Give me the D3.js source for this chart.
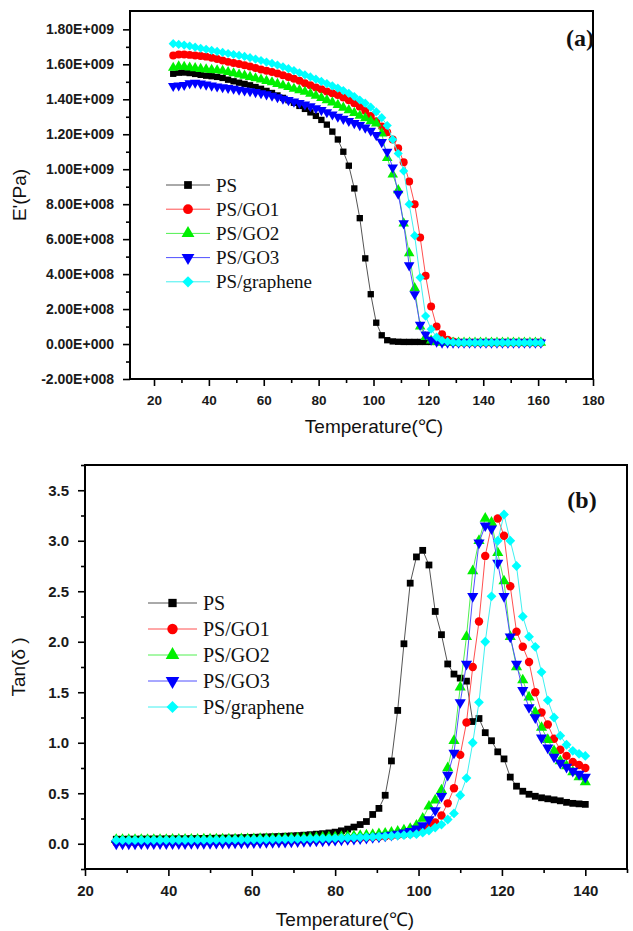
<!DOCTYPE html>
<html><head><meta charset="utf-8">
<script src="https://cdn.jsdelivr.net/npm/d3@7/dist/d3.min.js"></script>
<style>body{margin:0;background:#fff} svg{display:block}</style>
</head><body><svg id="c" width="633" height="931"></svg>
<script>
// ---------------- data ----------------
const seriesNames = ["PS", "PS/GO1", "PS/GO2", "PS/GO3", "PS/graphene"];
const markerColors = ["#000000", "#ff0000", "#00f000", "#0000ff", "#00ffff"];
const lineColors = ["#555555", "#ff5050", "#50f050", "#5050ff", "#40f0f0"];
const markerKinds = ["square", "circle", "triUp", "triDown", "diamond"];

// (a) storage modulus E' (values in units of 1E+009 Pa)
const tempA = [27,29,31,33,35,37,39,41,43,45,47,49,51,53,55,57,59,61,63,65,67,69,71,73,75,77,79,81,83,85,87,89,91,93,95,97,99,101,103,105,107,109,111,113,115,117,119,121,123,125,127,129,131,133,135,137,139,141,143,145,147,149,151,153,155,157,159,161];
const eA_PS = [1.546,1.552,1.553,1.550,1.545,1.540,1.535,1.532,1.528,1.522,1.512,1.503,1.495,1.488,1.480,1.470,1.460,1.448,1.436,1.422,1.408,1.395,1.380,1.362,1.345,1.325,1.305,1.282,1.255,1.215,1.170,1.100,1.020,0.890,0.720,0.490,0.285,0.122,0.050,0.022,0.015,0.013,0.012,0.012,0.012,0.012,0.012,0.012,0.012,0.012,0.012,0.012,0.012,0.012,0.012,0.012,0.012,0.012,0.012,0.012,0.012,0.012,0.012,0.012,0.012,0.012,0.012,0.012];
const eA_GO1 = [1.650,1.656,1.656,1.654,1.650,1.647,1.644,1.638,1.630,1.622,1.614,1.608,1.602,1.595,1.587,1.579,1.571,1.563,1.556,1.548,1.538,1.528,1.518,1.506,1.492,1.480,1.468,1.457,1.445,1.434,1.424,1.410,1.395,1.378,1.358,1.334,1.305,1.275,1.245,1.212,1.170,1.120,1.040,0.930,0.800,0.610,0.390,0.215,0.100,0.056,0.025,0.014,0.008,0.008,0.008,0.008,0.008,0.008,0.008,0.008,0.008,0.008,0.008,0.008,0.008,0.008,0.008,0.008];
const eA_GO2 = [1.580,1.588,1.586,1.582,1.578,1.574,1.571,1.568,1.566,1.563,1.556,1.549,1.542,1.535,1.528,1.520,1.513,1.505,1.497,1.488,1.479,1.470,1.460,1.452,1.443,1.432,1.420,1.408,1.395,1.382,1.368,1.352,1.338,1.322,1.306,1.292,1.275,1.262,1.205,1.065,0.970,0.880,0.690,0.520,0.320,0.100,0.040,0.020,0.012,0.008,0.008,0.008,0.008,0.008,0.008,0.008,0.008,0.008,0.008,0.008,0.008,0.008,0.008,0.008,0.008,0.008,0.008,0.008];
const eA_GO3 = [1.476,1.479,1.482,1.492,1.495,1.490,1.484,1.478,1.473,1.469,1.465,1.460,1.455,1.450,1.446,1.441,1.435,1.428,1.420,1.412,1.403,1.395,1.387,1.379,1.370,1.360,1.349,1.338,1.326,1.313,1.300,1.288,1.276,1.264,1.252,1.238,1.220,1.195,1.155,1.100,1.010,0.860,0.690,0.450,0.285,0.110,0.055,0.025,0.014,0.008,0.008,0.008,0.008,0.008,0.008,0.008,0.008,0.008,0.008,0.008,0.008,0.008,0.008,0.008,0.008,0.008,0.008,0.008];
const eA_GR = [1.718,1.714,1.710,1.705,1.698,1.692,1.686,1.680,1.674,1.668,1.662,1.656,1.651,1.645,1.638,1.630,1.622,1.613,1.605,1.596,1.586,1.575,1.564,1.552,1.540,1.528,1.515,1.502,1.490,1.477,1.464,1.450,1.434,1.416,1.396,1.378,1.355,1.328,1.295,1.250,1.170,1.090,0.990,0.800,0.620,0.380,0.160,0.085,0.040,0.020,0.014,0.010,0.008,0.008,0.008,0.008,0.008,0.008,0.008,0.008,0.008,0.008,0.008,0.008,0.008,0.008,0.008,0.008];
const yTicksA = [-0.2,0,0.2,0.4,0.6,0.8,1.0,1.2,1.4,1.6,1.8];
const xTicksA = [20,40,60,80,100,120,140,160,180];

// (b) loss factor tan(delta)
const tempB = [27.5,29,30.5,32,33.5,35,36.5,38,39.5,41,42.5,44,45.5,47,48.5,50,51.5,53,54.5,56,57.5,59,60.5,62,63.5,65,66.5,68,69.5,71,72.5,74,75.5,77,78.5,80,81.5,83,84.5,86,87.5,89,90.5,92,93.5,95,96.5,98,99.5,101,102.5,104,105.5,107,108.5,110,111.5,113,114.5,116,117.5,119,120.5,122,123.5,125,126.5,128,129.5,131,132.5,134,135.5,137,138.5,140];
const tanB_PS = [0.045,0.045,0.046,0.046,0.047,0.047,0.048,0.048,0.049,0.049,0.050,0.050,0.051,0.052,0.053,0.054,0.055,0.056,0.057,0.058,0.060,0.062,0.064,0.066,0.068,0.070,0.072,0.075,0.078,0.081,0.085,0.090,0.095,0.100,0.107,0.115,0.128,0.145,0.165,0.190,0.220,0.290,0.350,0.480,0.820,1.320,1.980,2.580,2.840,2.905,2.760,2.300,2.070,1.780,1.680,1.640,1.610,1.210,1.240,1.100,1.020,0.910,0.840,0.660,0.570,0.520,0.490,0.470,0.455,0.445,0.435,0.425,0.410,0.400,0.395,0.390];
const tanB_GO1 = [0.015,0.015,0.015,0.015,0.015,0.016,0.016,0.016,0.016,0.017,0.017,0.017,0.018,0.018,0.019,0.019,0.020,0.020,0.021,0.022,0.023,0.024,0.025,0.026,0.027,0.028,0.029,0.030,0.032,0.034,0.036,0.038,0.040,0.042,0.044,0.046,0.049,0.052,0.055,0.058,0.062,0.066,0.070,0.075,0.080,0.086,0.093,0.100,0.110,0.13,0.17,0.21,0.28,0.40,0.55,0.88,1.20,1.75,2.20,2.85,3.15,3.22,3.05,2.55,2.10,1.95,1.80,1.50,1.30,1.18,1.04,0.93,0.87,0.81,0.78,0.75];
const tanB_GO2 = [0.040,0.040,0.040,0.040,0.040,0.040,0.041,0.041,0.041,0.042,0.042,0.042,0.043,0.043,0.044,0.044,0.045,0.045,0.046,0.046,0.047,0.048,0.048,0.049,0.050,0.051,0.052,0.053,0.054,0.055,0.057,0.058,0.060,0.062,0.064,0.066,0.069,0.072,0.076,0.080,0.085,0.090,0.096,0.103,0.112,0.122,0.135,0.150,0.180,0.25,0.37,0.43,0.53,0.75,1.02,1.55,2.05,2.70,3.00,3.22,3.18,2.88,2.60,2.05,1.75,1.62,1.45,1.30,1.15,1.03,0.92,0.82,0.77,0.71,0.66,0.61];
const tanB_GO3 = [0.000,0.000,0.000,0.000,0.001,0.001,0.001,0.002,0.002,0.002,0.003,0.003,0.004,0.004,0.005,0.005,0.006,0.007,0.008,0.009,0.010,0.011,0.012,0.013,0.014,0.015,0.017,0.018,0.020,0.022,0.024,0.026,0.028,0.030,0.033,0.036,0.039,0.043,0.047,0.052,0.057,0.063,0.070,0.078,0.087,0.097,0.110,0.125,0.150,0.18,0.24,0.33,0.47,0.68,0.90,1.40,1.78,2.45,2.98,3.15,3.12,2.78,2.45,2.05,1.78,1.52,1.35,1.25,1.05,0.95,0.86,0.80,0.76,0.72,0.69,0.66];
const tanB_GR = [0.035,0.035,0.035,0.035,0.035,0.035,0.036,0.036,0.036,0.036,0.037,0.037,0.037,0.038,0.038,0.038,0.039,0.039,0.040,0.040,0.041,0.041,0.042,0.042,0.043,0.044,0.045,0.046,0.047,0.048,0.049,0.050,0.051,0.052,0.053,0.055,0.057,0.059,0.061,0.063,0.065,0.068,0.071,0.074,0.077,0.081,0.085,0.090,0.095,0.11,0.13,0.16,0.19,0.24,0.30,0.48,0.65,1.00,1.40,2.00,2.45,3.00,3.26,3.00,2.75,2.25,2.05,1.95,1.70,1.42,1.25,1.07,0.98,0.92,0.89,0.87];
const yTicksB = [0.0,0.5,1.0,1.5,2.0,2.5,3.0,3.5];
const xTicksB = [20,40,60,80,100,120,140];

// ---------------- drawing ----------------
const svg = d3.select("#c");
const tickFont = "'Liberation Sans', Arial, sans-serif";
const serif = "'Liberation Serif', 'Times New Roman', serif";

function symbolPath(kind, size) {
  if (kind === "circle") return d3.symbol(d3.symbolCircle, size)();
  if (kind === "triUp" || kind === "triDown") return d3.symbol(d3.symbolTriangle, size)();
  return d3.symbol(d3.symbolSquare, size)();
}
function symbolRot(kind) {
  if (kind === "triDown") return 180;
  if (kind === "diamond") return 45;
  return 0;
}

function fmtE(v) {
  const val = Math.round(v * 1e9);
  if (val === 0) return "0.00E+000";
  const sign = val < 0 ? "-" : "";
  const a = Math.abs(val);
  const exp = Math.floor(Math.log10(a) + 1e-9);
  const mant = a / Math.pow(10, exp);
  return sign + mant.toFixed(2) + "E+" + String(exp).padStart(3, "0");
}

function drawPanel(cfg) {
  const g = svg.append("g");
  const x = d3.scaleLinear().domain(cfg.xDomain).range([cfg.left, cfg.right]);
  const y = d3.scaleLinear().domain(cfg.yDomain).range([cfg.bottom, cfg.top]);

  // minor ticks
  g.append("g").attr("transform", `translate(0,${cfg.bottom})`)
    .call(d3.axisBottom(x).tickValues(cfg.xMinor).tickSize(4).tickFormat(""))
    .call(s => s.select(".domain").remove())
    .selectAll("line").attr("stroke", "#000").attr("stroke-width", 1.6);
  g.append("g").attr("transform", `translate(${cfg.left},0)`)
    .call(d3.axisLeft(y).tickValues(cfg.yMinor).tickSize(4).tickFormat(""))
    .call(s => s.select(".domain").remove())
    .selectAll("line").attr("stroke", "#000").attr("stroke-width", 1.6);

  // major ticks
  const xa = g.append("g").attr("transform", `translate(0,${cfg.bottom})`)
    .call(d3.axisBottom(x).tickValues(cfg.xTicks).tickSize(7).tickPadding(cfg.xPad).tickFormat(d3.format("d")));
  xa.select(".domain").remove();
  xa.selectAll("line").attr("stroke", "#000").attr("stroke-width", 1.6);
  xa.selectAll("text").attr("font-family", tickFont).attr("font-weight", "bold")
    .attr("font-size", cfg.xTickFont).attr("fill", "#1a1a1a");
  const ya = g.append("g").attr("transform", `translate(${cfg.left},0)`)
    .call(d3.axisLeft(y).tickValues(cfg.yTicks).tickSize(7).tickPadding(cfg.yPad).tickFormat(cfg.yFormat));
  ya.select(".domain").remove();
  ya.selectAll("line").attr("stroke", "#000").attr("stroke-width", 1.6);
  ya.selectAll("text").attr("font-family", tickFont).attr("font-weight", "bold")
    .attr("font-size", cfg.yTickFont).attr("fill", "#1a1a1a");

  // frame
  g.append("rect").attr("x", cfg.left).attr("y", cfg.top)
    .attr("width", cfg.right - cfg.left).attr("height", cfg.bottom - cfg.top)
    .attr("fill", "none").attr("stroke", "#000").attr("stroke-width", 2);

  // series
  const line = d3.line().x(d => x(d[0])).y(d => y(d[1]));
  cfg.series.forEach((vals, i) => {
    const pts = cfg.temps.map((t, j) => [t, vals[j]]);
    const sg = g.append("g");
    sg.append("path").attr("d", line(pts)).attr("fill", "none")
      .attr("stroke", lineColors[i]).attr("stroke-width", 1);
    const k = markerKinds[i];
    sg.selectAll("path.m").data(pts).enter().append("path").attr("class", "m")
      .attr("d", symbolPath(k, cfg.msize[k]))
      .attr("transform", d => `translate(${x(d[0])},${y(d[1])}) rotate(${symbolRot(k)})`)
      .attr("fill", markerColors[i]);
  });

  // legend
  const lg = g.append("g");
  seriesNames.forEach((name, i) => {
    const yy = cfg.legend.y0 + i * cfg.legend.dy;
    lg.append("line").attr("x1", cfg.legend.x1).attr("x2", cfg.legend.x2)
      .attr("y1", yy).attr("y2", yy).attr("stroke", lineColors[i]).attr("stroke-width", 1);
    const k = markerKinds[i];
    lg.append("path").attr("d", symbolPath(k, cfg.msize[k] * 1.5))
      .attr("transform", `translate(${(cfg.legend.x1 + cfg.legend.x2) / 2},${yy}) rotate(${symbolRot(k)})`)
      .attr("fill", markerColors[i]);
    lg.append("text").attr("x", cfg.legend.tx).attr("y", yy).attr("dy", "0.35em")
      .attr("font-family", serif).attr("font-size", cfg.legend.fs).attr("fill", "#111").text(name);
  });

  // labels
  g.append("text").attr("x", cfg.xLabelX).attr("y", cfg.xLabelY)
    .attr("text-anchor", "middle").attr("font-family", tickFont).attr("font-size", 19)
    .attr("fill", "#111").text("Temperature(\u2103)");
  g.append("text").attr("transform", `translate(${cfg.yLabelX},${(cfg.top + cfg.bottom) / 2}) rotate(-90)`)
    .attr("text-anchor", "middle").attr("font-family", tickFont).attr("font-size", 19)
    .attr("fill", "#111").text(cfg.yLabel);
  g.append("text").attr("x", cfg.tagX).attr("y", cfg.tagY).attr("text-anchor", "middle")
    .attr("font-family", serif).attr("font-weight", "bold").attr("font-size", 24)
    .attr("fill", "#111").text(cfg.tag);
}

drawPanel({
  left: 130, right: 593, top: 11, bottom: 379,
  xDomain: [11.25, 180], yDomain: [-0.2, 1.905],
  xTicks: xTicksA, xMinor: [30,50,70,90,110,130,150,170],
  yTicks: yTicksA, yMinor: [-0.1,0.1,0.3,0.5,0.7,0.9,1.1,1.3,1.5,1.7],
  yFormat: fmtE, yPad: 9, xPad: 9, yTickFont: 14, xTickFont: 13.5,
  msize: {square: 40, circle: 50, triUp: 48, triDown: 48, diamond: 42},
  temps: tempA, series: [eA_PS, eA_GO1, eA_GO2, eA_GO3, eA_GR],
  legend: {x1: 166, x2: 210, tx: 216, y0: 185, dy: 24.2, fs: 19},
  xLabelX: 374, xLabelY: 433, yLabelX: 26, yLabel: "E'(Pa)",
  tag: "(a)", tagX: 580, tagY: 46
});

drawPanel({
  left: 85, right: 627, top: 465, bottom: 869,
  xDomain: [20, 150], yDomain: [-0.25, 3.75],
  xTicks: xTicksB, xMinor: [30,50,70,90,110,130,150],
  yTicks: yTicksB, yMinor: [-0.25,0.25,0.75,1.25,1.75,2.25,2.75,3.25,3.75],
  yFormat: d3.format(".1f"), yPad: 9, xPad: 9, yTickFont: 15, xTickFont: 15,
  msize: {square: 46, circle: 56, triUp: 54, triDown: 54, diamond: 48},
  temps: tempB, series: [tanB_PS, tanB_GO1, tanB_GO2, tanB_GO3, tanB_GR],
  legend: {x1: 148, x2: 197, tx: 203, y0: 603, dy: 26, fs: 20},
  xLabelX: 345, xLabelY: 926, yLabelX: 25, yLabel: "Tan(\u03b4 )",
  tag: "(b)", tagX: 582, tagY: 508
});
</script></body></html>
